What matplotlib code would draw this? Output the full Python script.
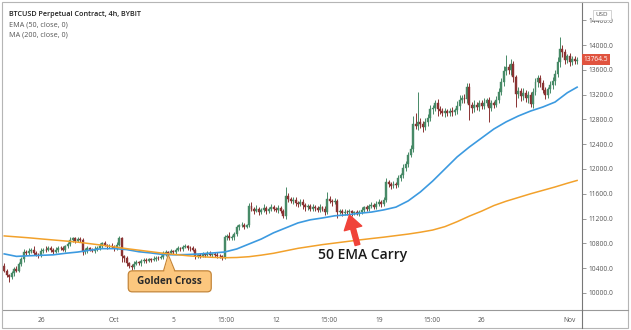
import matplotlib
matplotlib.use("Agg")
import matplotlib.pyplot as plt
import numpy as np
from matplotlib.patches import FancyBboxPatch, Polygon, Rectangle
from matplotlib.lines import Line2D
from matplotlib.transforms import ScaledTranslation, blended_transform_factory
import pandas as pd

plt.rcParams['font.family'] = ['Open Sans', 'DejaVu Sans']

# 4h candles, first one at Sep 23 12:00
start = pd.Timestamp("2020-09-23 12:00")
first_open = 10440
closes = [
    10360, 10290, 10250, 10320, 10380, 10360, 10470, 10540, 10660, 10640,
    10680, 10700, 10650, 10620, 10610, 10680, 10700, 10690, 10720, 10700,
    10660, 10700, 10730, 10720, 10700, 10750, 10790, 10860, 10880, 10840,
    10870, 10850, 10660, 10690, 10720, 10700, 10680, 10710, 10730, 10760,
    10800, 10770, 10750, 10760, 10740, 10720, 10780, 10880, 10600, 10560,
    10480, 10440, 10420, 10470, 10500, 10480, 10510, 10530, 10520, 10540,
    10530, 10550, 10570, 10560, 10580, 10640, 10660, 10650, 10670, 10660,
    10690, 10720, 10710, 10740, 10760, 10730, 10720, 10700, 10590, 10610,
    10600, 10630, 10620, 10640, 10610, 10630, 10620, 10600, 10590, 10570,
    10900, 10920, 10880, 10900, 10950, 11060, 11090, 11100, 11070, 11090,
    11400, 11360, 11330, 11350, 11310, 11340, 11370, 11330, 11350, 11380,
    11360, 11340, 11370, 11330, 11240, 11570, 11520, 11480, 11500, 11450,
    11430, 11470, 11420, 11380, 11400, 11360, 11390, 11370, 11340, 11380,
    11360, 11300, 11520, 11490, 11460, 11480, 11310, 11320, 11290, 11310,
    11300, 11320, 11290, 11300, 11280, 11310, 11340, 11380, 11360, 11400,
    11420, 11390, 11440, 11470, 11430, 11500, 11790, 11760, 11720, 11750,
    11740, 11850, 11900, 12020, 12080, 12230, 12330, 12730, 12700, 12760,
    12720, 12680, 12750, 12820, 12960, 12990, 13060, 12960, 12940, 12900,
    12930, 12910, 12940, 12920, 12950, 13020, 13110, 13140, 13130, 13320,
    13030, 12980, 13040, 13000, 13060, 13020, 13070, 13110, 12990, 13060,
    13040, 13120, 13250, 13400, 13580, 13640, 13600, 13700, 13480, 13210,
    13260, 13180, 13230, 13150, 13200, 13050, 13250, 13400, 13470, 13380,
    13280, 13200, 13290, 13360, 13420, 13540, 13720, 13940, 13880, 13760,
    13820, 13720, 13780, 13740, 13764.5,
]
# wick length above / below the body
wick_hi = [
    40, 30, 20, 30, 40, 50, 30, 40, 50, 30,
    40, 30, 50, 30, 20, 40, 30, 50, 30, 40,
    30, 40, 30, 20, 40, 30, 40, 50, 30, 20,
    30, 40, 30, 40, 30, 20, 30, 40, 30, 40,
    30, 40, 20, 30, 40, 30, 50, 40, 30, 20,
    30, 20, 30, 40, 30, 20, 30, 40, 30, 20,
    30, 40, 30, 20, 30, 40, 30, 20, 40, 30,
    40, 30, 20, 40, 30, 20, 30, 40, 30, 20,
    40, 30, 20, 40, 30, 20, 30, 40, 30, 20,
    40, 30, 60, 40, 30, 40, 30, 40, 30, 20,
    50, 60, 30, 70, 40, 30, 60, 40, 30, 50,
    40, 30, 50, 30, 20, 140, 40, 30, 50, 40,
    30, 50, 40, 30, 40, 30, 50, 30, 40, 60,
    30, 40, 110, 40, 30, 50, 30, 40, 30, 40,
    30, 40, 20, 30, 40, 30, 40, 30, 40, 30,
    40, 30, 40, 50, 30, 40, 60, 40, 30, 50,
    40, 50, 40, 60, 50, 40, 60, 120, 180, 480,
    60, 50, 70, 60, 80, 50, 60, 70, 50, 40,
    60, 40, 50, 60, 40, 70, 80, 60, 70, 65,
    60, 50, 70, 40, 60, 50, 70, 40, 50, 60,
    40, 60, 50, 60, 80, 200, 60, 80, 50, 40,
    60, 50, 70, 40, 60, 50, 60, 70, 50, 40,
    60, 50, 40, 60, 70, 50, 80, 190, 60, 50,
    40, 50, 40, 50, 40,
]
wick_lo = [
    30, 40, 70, 30, 40, 30, 20, 30, 40, 30,
    30, 40, 30, 20, 40, 30, 40, 30, 20, 40,
    30, 20, 40, 30, 30, 40, 20, 30, 40, 30,
    20, 30, 50, 30, 40, 30, 20, 30, 40, 30,
    30, 20, 40, 30, 20, 40, 30, 20, 100, 60,
    40, 30, 50, 30, 20, 30, 40, 20, 30, 20,
    30, 20, 40, 30, 20, 30, 40, 30, 20, 30,
    30, 20, 40, 30, 20, 30, 40, 30, 40, 20,
    30, 20, 40, 30, 20, 30, 40, 30, 20, 40,
    30, 40, 30, 20, 40, 30, 40, 30, 40, 30,
    30, 40, 50, 30, 60, 40, 30, 50, 40, 30,
    40, 30, 50, 40, 30, 40, 60, 30, 40, 50,
    40, 30, 60, 50, 40, 30, 40, 50, 40, 30,
    40, 50, 30, 40, 50, 30, 100, 40, 50, 30,
    40, 30, 50, 40, 30, 40, 30, 40, 30, 40,
    30, 40, 30, 40, 50, 30, 40, 50, 40, 30,
    40, 30, 50, 40, 60, 50, 40, 60, 50, 70,
    60, 80, 50, 60, 50, 70, 60, 100, 60, 50,
    60, 50, 60, 70, 50, 60, 70, 50, 60, 60,
    240, 70, 60, 50, 70, 60, 50, 60, 230, 60,
    50, 40, 60, 50, 60, 70, 60, 80, 70, 210,
    60, 80, 60, 70, 80, 50, 60, 50, 70, 60,
    60, 70, 50, 60, 70, 60, 50, 70, 80, 60,
    50, 60, 50, 40, 50,
]

# indicator values at every 5th candle
ind_idx = list(range(0, 231, 5)) + [234]
ema50 = [10630, 10590, 10600, 10607, 10615, 10640, 10660, 10690, 10715, 10715,
         10700, 10665, 10645, 10620, 10615, 10620, 10630, 10645, 10660, 10710,
         10790, 10870, 10970, 11050, 11130, 11180, 11210, 11245, 11260, 11285,
         11305, 11340, 11385, 11485, 11630, 11805, 12000, 12195, 12355, 12500,
         12645, 12760, 12855, 12935, 13000, 13080, 13230, 13320]
ma200 = [10920, 10905, 10890, 10872, 10855, 10838, 10820, 10795, 10770, 10742,
         10715, 10690, 10665, 10640, 10620, 10600, 10585, 10575, 10568, 10572,
         10585, 10610, 10640, 10680, 10720, 10750, 10780, 10805, 10830, 10855,
         10878, 10900, 10925, 10950, 10980, 11015, 11070, 11150, 11240, 11320,
         11410, 11480, 11540, 11600, 11655, 11710, 11770, 11815]

tick_times = ["2020-09-26", "2020-10-01", "2020-10-05", "2020-10-08 15:00",
              "2020-10-12", "2020-10-15 15:00", "2020-10-19", "2020-10-22 15:00",
              "2020-10-26", "2020-11-01"]
tick_labels = ["26", "Oct", "5", "15:00", "12", "15:00", "19", "15:00", "26", "Nov"]
price_ticks = [10000, 10400, 10800, 11200, 11600, 12000, 12400, 12800,
               13200, 13600, 14000, 14400]
last_price = 13764.5

GREEN = '#478a67'
RED = '#8a3232'

W, H = 631, 330
fig = plt.figure(figsize=(W / 100, H / 100), dpi=100)
ax = fig.add_axes([3 / W, 20 / H, 579 / W, 308 / H])

idx = np.arange(len(closes))
c = np.array(closes, dtype=float)
o = np.array([first_open] + closes[:-1], dtype=float)
hi = np.maximum(o, c) + np.array(wick_hi)
lo = np.minimum(o, c) - np.array(wick_lo)
cols = np.where(c >= o, GREEN, RED)

ax.vlines(idx, lo, hi, colors=cols, lw=0.7, zorder=2)
ax.bar(idx, c - o, bottom=o, width=0.8, color=cols, edgecolor=cols, lw=0.3, zorder=3)

ax.plot(ind_idx, ema50, color='#3c9ae0', lw=1.2, zorder=4, solid_joinstyle='round')
ax.plot(ind_idx, ma200, color='#f2a12b', lw=1.1, zorder=4, solid_joinstyle='round')

ax.set_xlim(-0.5, 236)
ax.set_ylim(9725, 14694)

tick_pos = [(pd.Timestamp(t) - start) / pd.Timedelta(hours=4) for t in tick_times]
ax.set_xticks(tick_pos)
ax.set_xticklabels(tick_labels)
ax.tick_params(axis='x', length=0, pad=5, labelsize=4.8, labelcolor='#555555')

ax.yaxis.tick_right()
ax.set_yticks(price_ticks)
ax.set_yticklabels([f"{v:.1f}" for v in price_ticks])
ax.tick_params(axis='y', length=3, width=0.6, color='#888888', pad=2,
               labelsize=4.8, labelcolor='#555555')

for s in ['top', 'left']:
    ax.spines[s].set_visible(False)
ax.spines['right'].set_color('#777777')
ax.spines['right'].set_linewidth(0.8)
ax.spines['bottom'].set_color('#999999')
ax.spines['bottom'].set_linewidth(0.8)

# last price tag
bt = blended_transform_factory(ax.transAxes, ax.transData)
ax.text(1.003, last_price, f"{last_price:.1f}", transform=bt, ha='left', va='center',
        color='white', fontsize=4.8, clip_on=False,
        bbox=dict(boxstyle='square,pad=0.3', fc='#e0533f', ec='none'))

# legend texts top-left
fig.text(9 / W, 1 - 15 / H, "BTCUSD Perpetual Contract, 4h, BYBIT", fontsize=5.2,
         fontweight='semibold', color='#222222', va='center')
fig.text(9 / W, 1 - 25 / H, "EMA (50, close, 0)", fontsize=5.2, color='#555555', va='center')
fig.text(9 / W, 1 - 35 / H, "MA (200, close, 0)", fontsize=5.2, color='#555555', va='center')

fig.text(602 / W, 1 - 15 / H, "USD", fontsize=4.5, color='#555555', ha='center', va='center',
         bbox=dict(boxstyle='square,pad=0.45', fc='white', ec='#cccccc', lw=0.6))

# frame pieces
fig.patches.append(Rectangle((2 / W, 2 / H), 626 / W, 326 / H, fill=False, ec='#b5b5b5',
                             lw=0.8, transform=fig.transFigure))
fig.lines.append(Line2D([582 / W, 628 / W], [20 / H, 20 / H], color='#999999', lw=0.8,
                        transform=fig.transFigure))
fig.lines.append(Line2D([582 / W, 582 / W], [2 / H, 20 / H], color='#777777', lw=0.8,
                        transform=fig.transFigure))

# Golden Cross callout, sized in inches around the crossing point
anchor = fig.dpi_scale_trans + ScaledTranslation(67, 10615, ax.transData)
box_fc, box_ec = '#fcc77e', '#c4863a'
ax.add_patch(Polygon([(-0.05, -0.17), (0.0, 0.0), (0.07, -0.17)], closed=True, fc=box_fc,
                     ec=box_ec, lw=0.9, transform=anchor, clip_on=False, zorder=6))
ax.add_patch(FancyBboxPatch((-0.40, -0.37), 0.83, 0.21,
                            boxstyle="round,pad=0,rounding_size=0.04", fc=box_fc, ec=box_ec,
                            lw=0.9, transform=anchor, clip_on=False, zorder=7))
ax.add_patch(Polygon([(-0.043, -0.175), (0.0, -0.01), (0.063, -0.175)], closed=True,
                     fc=box_fc, ec='none', transform=anchor, clip_on=False, zorder=8))
ax.text(0.015, -0.265, "Golden Cross", transform=anchor, ha='center', va='center',
        fontsize=7.2, fontweight='bold', color='#2a2a2a', zorder=9)

# 50 EMA carry arrow and label
ax.annotate("", xy=(141, 11258), xytext=(144.3, 10775),
            arrowprops=dict(arrowstyle="simple,head_length=1.0,head_width=1.3,tail_width=0.35",
                            color='#f0433a', shrinkA=0, shrinkB=0, mutation_scale=10),
            zorder=6)
ax.text(146.3, 10615, "50 EMA Carry", ha='center', va='center', fontsize=10,
        fontweight='semibold', color='#1a1a1a', zorder=6)

fig.savefig("out.png", dpi=100)
